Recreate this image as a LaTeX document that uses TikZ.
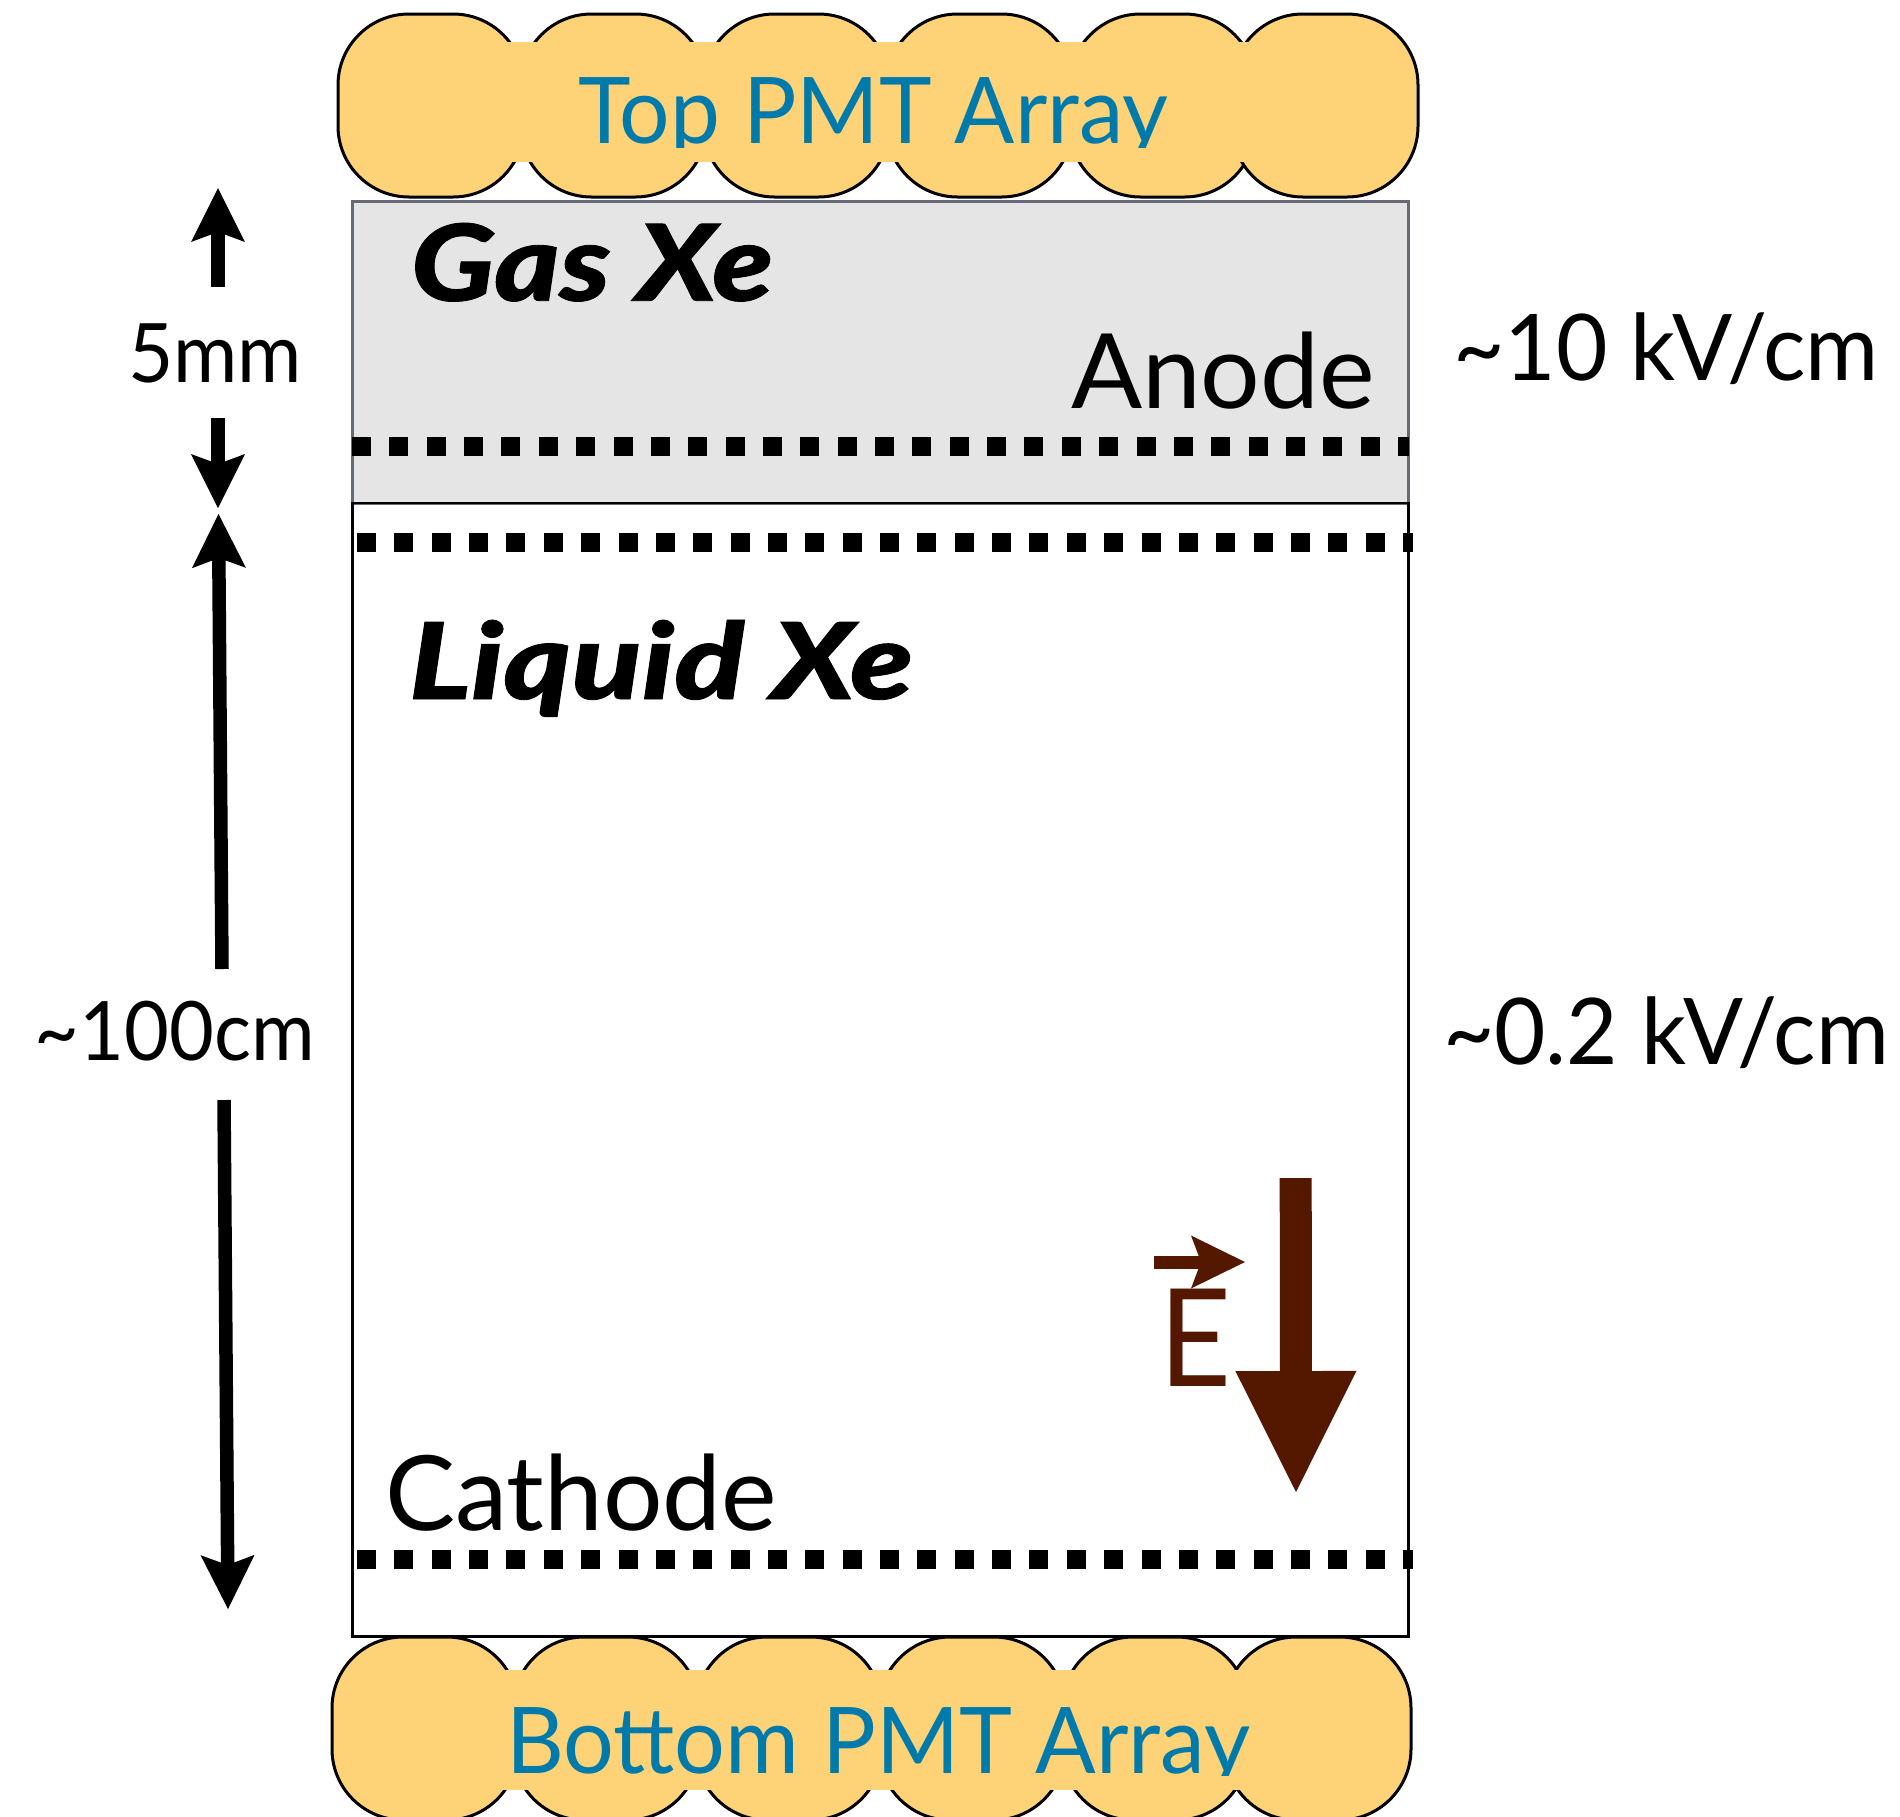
\documentclass[tikz,border=0pt]{standalone}
\usepackage{fontspec}
\usepackage{graphicx}
\usetikzlibrary{arrows.meta}
\setmainfont{Lato}
\newfontfamily\heavyfont[FakeBold=0.8]{Lato Black Italic}
\definecolor{pmtfill}{HTML}{FED377}
\definecolor{pmttext}{HTML}{007AAB}
\definecolor{gasfill}{HTML}{E5E5E5}
\definecolor{gasedge}{HTML}{666A75}
\definecolor{fieldcol}{HTML}{541700}
\newcommand{\fit}[2]{\resizebox{#1pt}{\height}{#2}}
\tikzset{
  x=0.5pt,y=-0.5pt,
  pmt/.style={draw=black,line width=1.5pt,fill=pmtfill,rounded corners=35.5pt,minimum width=93pt,minimum height=91.5pt,inner sep=0pt},
  band/.style={fill=pmtfill,draw=none},
  grid/.style={line width=9.5pt,dash pattern=on 9.5pt off 9.18pt,black},
  lab/.style={anchor=base west,inner sep=0pt,outer sep=0pt,text=black},
  pmtlab/.style={lab,text=pmttext,font=\fontsize{46}{46}\selectfont},
  biglab/.style={lab,font=\fontsize{52}{52}\selectfont},
  fieldlab/.style={lab,font=\fontsize{46}{46}\selectfont},
  sidelab/.style={lab,font=\fontsize{41}{41}\selectfont},
  heavylab/.style={lab,font=\fontsize{53}{53}\selectfont\heavyfont},
  dim/.style={line width=6.75pt,black,-{Stealth[length=27pt,width=27pt,inset=5pt,line width=0pt]}},
  vecarrow/.style={line width=6.5pt,fieldcol,-{Stealth[length=27pt,width=26.5pt,inset=5pt,line width=0pt]}},
  fieldarrow/.style={line width=16pt,fieldcol,-{Triangle[length=60.5pt,width=60.5pt,line width=0pt]}},
}
\begin{document}
\begin{tikzpicture}
\clip (0,0) rectangle (1900,1816);
% top PMTs
\foreach \i/\cx in {1/431,2/613.5,3/796.5,4/979.5,5/1162.5,6/1325}{
  \node[pmt] (t\i) at (\cx,105.5) {};
}
\fill[band] (431,42) rectangle (1325,162);
% bottom PMTs
\foreach \i/\cx in {1/425,2/606,3/789,4/972,5/1155,6/1318}{
  \node[pmt] (b\i) at (\cx,1728.5) {};
}
\fill[band] (425,1670) rectangle (1318,1790);
% volumes
\draw[fill=gasfill,draw=gasedge,line width=1.5pt] (352.5,201.5) rectangle (1408.5,503);
\draw[draw=black,line width=1.25pt] (352.5,503) rectangle (1408.5,1636.5);
% grids
\coordinate (anodeL) at (352,446);   \coordinate (anodeR) at (1409,446);
\coordinate (gateL) at (357,542);    \coordinate (gateR) at (1413,542);
\coordinate (cathL) at (357,1559.5); \coordinate (cathR) at (1413,1559.5);
\draw[grid] (anodeL) -- (anodeR);
\draw[grid] (gateL) -- (gateR);
\draw[grid] (cathL) -- (cathR);
% dimension arrows
\coordinate (u1) at (218,287);  \coordinate (u2) at (218,188);
\coordinate (d1) at (218,418);  \coordinate (d2) at (218,508);
\coordinate (l1) at (222,969);  \coordinate (l2) at (218.5,514);
\coordinate (m1) at (224,1100); \coordinate (m2) at (228,1609);
\draw[dim] (u1) -- (u2);
\draw[dim] (d1) -- (d2);
\draw[dim] (l1) -- (l2);
\draw[dim] (m1) -- (m2);
% field
\coordinate (f1) at (1295.7,1178); \coordinate (f2) at (1296,1492);
\coordinate (e1) at (1154,1262);   \coordinate (e2) at (1245,1262);
\draw[fieldarrow] (f1) -- (f2);
\draw[vecarrow] (e1) -- (e2);
\node[lab,text=fieldcol,font=\fontsize{68}{68}\selectfont] (efield) at (1159,1386) {\fit{36}{E}};
% labels; the reference cuts off the descenders of the array captions
\begin{scope}
\clip (500,60) rectangle (1300,147.7);
\node[pmtlab] (toplab) at (578,143) {\fit{295}{Top PMT Array}};
\end{scope}
\begin{scope}
\clip (450,1690) rectangle (1300,1775.7);
\node[pmtlab] (botlab) at (506,1773) {\fit{372}{Bottom PMT Array}};
\end{scope}
\node[heavylab] (gas) at (411,300.7) {\fit{181}{Gas Xe}};
\node[heavylab] (liq) at (409,699) {\fit{252}{Liquid Xe}};
\node[biglab] (anode) at (1071,408) {\fit{152}{Anode}};
\node[biglab] (cath) at (385,1530) {\fit{196}{Cathode}};
\node[sidelab] (fivemm) at (128,382) {\fit{87}{5mm}};
\node[sidelab] (hundred) at (35,1060.7) {\fit{140}{\char`\~100cm}};
\node[fieldlab] (ten) at (1453,380.7) {\fit{213}{\char`\~10 kV/cm}};
\node[fieldlab] (ptwo) at (1443,1064) {\fit{223}{\char`\~0.2 kV/cm}};
\end{tikzpicture}
\end{document}
